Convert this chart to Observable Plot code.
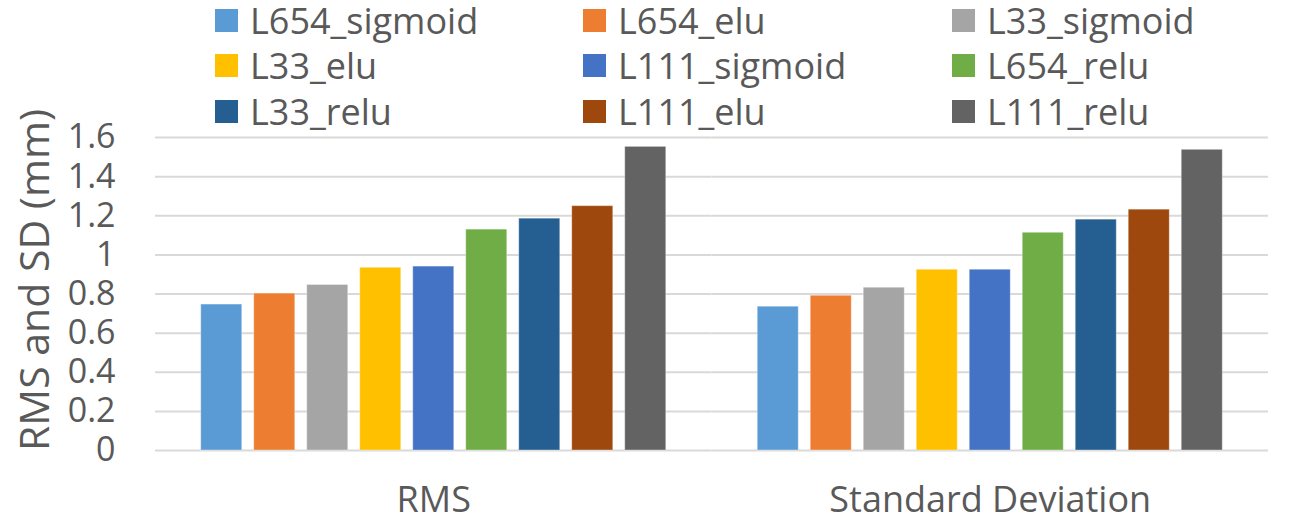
<!DOCTYPE html>
<html>
<head>
<meta charset="utf-8">
<script src="https://cdn.jsdelivr.net/npm/d3@7"></script>
<script src="https://cdn.jsdelivr.net/npm/@observablehq/plot@0.6"></script>
<style>
  html, body { margin: 0; padding: 0; background: #fff; }
  #wrap { position: relative; width: 1297px; height: 521px; font-family: "Open Sans", sans-serif; color: #595959; overflow: hidden; }
  #legend { position: absolute; left: 0; top: 0; width: 1297px; height: 130px; }
  .item { position: absolute; display: flex; align-items: center; font-size: 36px; line-height: 1; white-space: nowrap; }
  .sw { width: 23px; height: 23px; margin-right: 12px; flex: none; }
  #chart { position: absolute; left: 0; top: 0; }
  #ytitle { position: absolute; left: 33px; top: 280px; transform: translate(-50%, -50%) rotate(-90deg); font-size: 41px; line-height: 1; white-space: nowrap; }
</style>
</head>
<body>
<div id="wrap">
  <div id="chart"></div>
  <div id="legend"></div>
  <div id="ytitle"></div>
</div>
<script>
const groups = ["RMS", "Standard Deviation"];
const series = ["L654_sigmoid", "L654_elu", "L33_sigmoid", "L33_elu", "L111_sigmoid", "L654_relu", "L33_relu", "L111_elu", "L111_relu"];
const colors = ["#5B9BD5", "#ED7D31", "#A5A5A5", "#FFC000", "#4472C4", "#70AD47", "#255E91", "#9E480E", "#636363"];
const rmsValues = [0.746, 0.802, 0.846, 0.934, 0.940, 1.129, 1.185, 1.249, 1.552];
const sdValues  = [0.735, 0.791, 0.832, 0.924, 0.924, 1.113, 1.180, 1.231, 1.537];
const yTicks = [0, 0.2, 0.4, 0.6, 0.8, 1, 1.2, 1.4, 1.6];
const yTitle = "RMS and SD (mm)";

const data = [];
series.forEach((s, i) => {
  data.push({group: groups[0], series: s, value: rmsValues[i]});
  data.push({group: groups[1], series: s, value: sdValues[i]});
});

const chart = Plot.plot({
  width: 1297,
  height: 521,
  marginTop: 137,
  marginBottom: 71,
  marginLeft: 155,
  marginRight: 29,
  style: {fontFamily: "Open Sans, sans-serif", color: "#595959", background: "transparent"},
  fx: {domain: groups, padding: 0, round: false},
  x: {domain: series, paddingInner: 0.226, paddingOuter: 0.863, round: false, axis: null},
  y: {domain: [0, 1.6]},
  color: {domain: series, range: colors},
  marks: [
    Plot.gridY({ticks: yTicks, stroke: "#d9d9d9", strokeOpacity: 1, strokeWidth: 2}),
    Plot.barY(data, {fx: "group", x: "series", y: "value", fill: "series", stroke: "#ffffff", strokeOpacity: 0.35, strokeWidth: 1}),
    Plot.axisY({ticks: yTicks, tickFormat: d => String(d), tickSize: 0, tickPadding: 40, fontSize: 34, label: null}),
    Plot.axisFx({anchor: "bottom", tickSize: 0, tickPadding: 36, fontSize: 36, label: null})
  ]
});
document.getElementById("chart").appendChild(chart);
document.getElementById("ytitle").textContent = yTitle;

const legendCols = [215, 583, 952];
const legendRows = [9, 54, 100];
const legend = document.getElementById("legend");
series.forEach((s, i) => {
  const item = document.createElement("div");
  item.className = "item";
  item.style.left = legendCols[i % 3] + "px";
  item.style.top = (legendRows[Math.floor(i / 3)] - 6) + "px";
  item.style.height = "35px";
  const sw = document.createElement("span");
  sw.className = "sw";
  sw.style.background = colors[i];
  const tx = document.createElement("span");
  tx.textContent = s;
  item.appendChild(sw);
  item.appendChild(tx);
  legend.appendChild(item);
});
</script>
</body>
</html>
